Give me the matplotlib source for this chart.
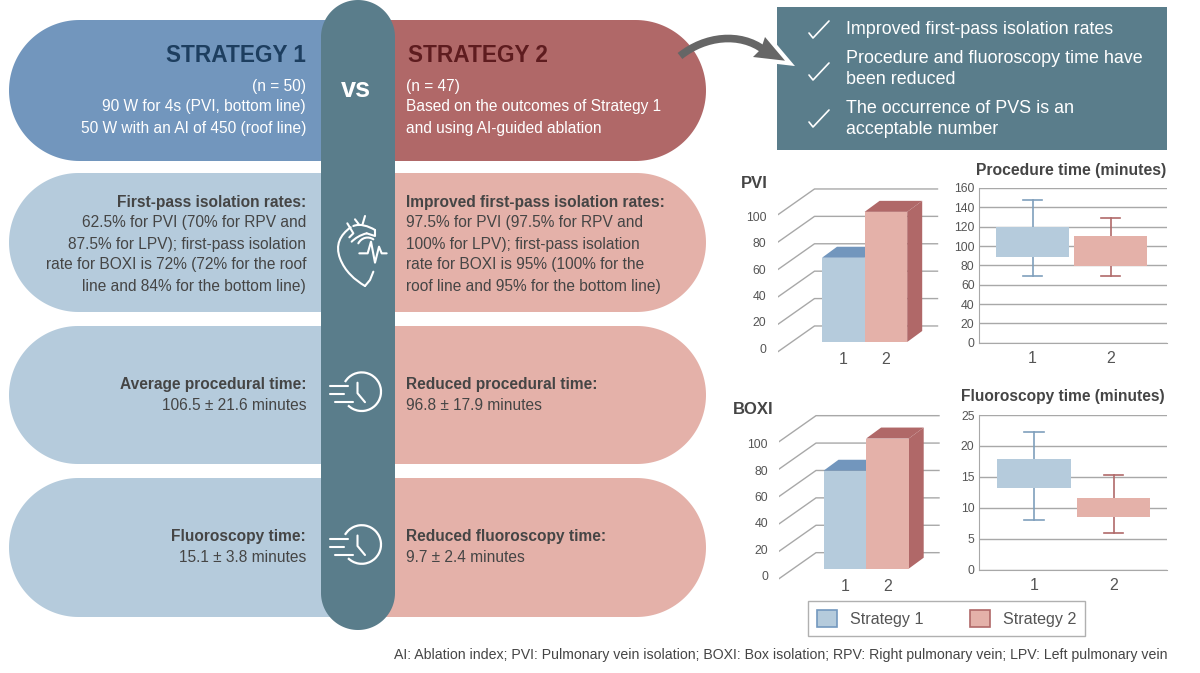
import numpy as np
import matplotlib
matplotlib.use("Agg")
import matplotlib.pyplot as plt
from matplotlib.patches import Polygon, Rectangle, Patch, PathPatch, Arc
from matplotlib.path import Path

plt.rcParams['font.family'] = ['Liberation Sans', 'DejaVu Sans']

# Data for the charts
categories = [1, 2]
pvi_values = [61.5, 95]
boxi_values = [71.5, 95]
bar_ticks = [0, 20, 40, 60, 80, 100]

procedure_stats = [dict(whislo=69.5, q1=89, med=105, q3=120, whishi=148),
                   dict(whislo=69, q1=79, med=95, q3=110, whishi=129)]
fluoro_stats = [dict(whislo=8, q1=13.15, med=15, q3=17.9, whishi=22.3),
                dict(whislo=6, q1=8.5, med=10, q3=11.6, whishi=15.35)]
procedure_ticks = [0, 20, 40, 60, 80, 100, 120, 140, 160]
fluoro_ticks = [0, 5, 10, 15, 20, 25]

legend_labels = ["Strategy 1", "Strategy 2"]
benefits = ["Improved first-pass isolation rates",
            "Procedure and fluoroscopy time have\nbeen reduced",
            "The occurrence of PVS is an\nacceptable number"]
note = ("AI: Ablation index; PVI: Pulmonary vein isolation; BOXI: Box isolation; "
        "RPV: Right pulmonary vein; LPV: Left pulmonary vein")

# Colors
BLUE_DARK = '#7296bd'
BLUE_LIGHT = '#b5cbdc'
RED_DARK = '#b06868'
RED_LIGHT = '#e4b1a9'
TEAL = '#5a7d8b'
TEXT = '#454545'
GRID = '#a8a8a8'
LABEL = '#555555'

W, H = 1200, 673
fig = plt.figure(figsize=(W / 100, H / 100), dpi=100, facecolor='white')

# Background axes in pixel coordinates for the infographic part
bg = fig.add_axes([0, 0, 1, 1])
bg.set_xlim(0, W)
bg.set_ylim(H, 0)
bg.axis('off')


def half_pill(x_flat, y0, y1, side, color, x_end=361):
    r = (y1 - y0) / 2
    cy = (y0 + y1) / 2
    ang = np.linspace(np.pi / 2, -np.pi / 2, 80)
    xs = x_flat + side * r * np.cos(ang)
    ys = cy - r * np.sin(ang)
    pts = list(zip(xs, ys)) + [(x_end, y1), (x_end, y0)]
    bg.add_patch(Polygon(pts, closed=True, fc=color, ec='none', zorder=1))


def draw_line(pts, lw=1.5, color='white', zorder=5):
    xs, ys = zip(*pts)
    bg.plot(xs, ys, color=color, lw=lw, solid_capstyle='round',
            solid_joinstyle='round', zorder=zorder)


def curve(verts, lw=1.5, color='white', zorder=5, cap='round'):
    codes = [Path.MOVETO] + [Path.CURVE4] * (len(verts) - 1)
    bg.add_patch(PathPatch(Path(verts, codes), fc='none', ec=color, lw=lw,
                           capstyle=cap, zorder=zorder))


# Pills
rows = [(20, 161, BLUE_DARK, RED_DARK),
        (173, 312, BLUE_LIGHT, RED_LIGHT),
        (326, 464, BLUE_LIGHT, RED_LIGHT),
        (478, 617, BLUE_LIGHT, RED_LIGHT)]
for y0, y1, c_left, c_right in rows:
    r = (y1 - y0) / 2
    half_pill(9 + r, y0, y1, -1, c_left)
    half_pill(706 - r, y0, y1, 1, c_right)

# Center column
col_r = 37
col_ang = np.linspace(0, np.pi, 60)
col_pts = ([(358 - col_r * np.cos(a), col_r - col_r * np.sin(a)) for a in col_ang]
           + [(358 + col_r * np.cos(a), 630 - col_r + col_r * np.sin(a)) for a in col_ang])
bg.add_patch(Polygon(col_pts, closed=True, fc=TEAL, ec='none', zorder=3))
bg.text(355.5, 90, "vs", color='white', fontsize=19.5, fontweight='bold', ha='center', va='center', zorder=6)


# Heart icon, sketched on a 3x grid
def hp(pts):
    return [(320 + a / 3, 200 + b / 3) for a, b in pts]


curve(hp([(92, 82), (60, 105), (45, 135), (60, 175), (75, 215), (105, 240), (135, 258)]))
draw_line(hp([(135, 258), (150, 240), (160, 215)]))
curve(hp([(100, 78), (120, 70), (145, 78), (165, 90)]))
draw_line(hp([(165, 90), (165, 108), (140, 100)]))
curve(hp([(140, 100), (120, 105), (105, 115), (95, 125)]))
draw_line(hp([(82, 70), (100, 100), (88, 112)]))
draw_line(hp([(105, 58), (118, 75)]))
draw_line(hp([(135, 48), (128, 72)]))
curve(hp([(115, 130), (125, 112), (145, 108), (160, 118)]))
draw_line(hp([(118, 160), (143, 160), (153, 125), (165, 188), (177, 140), (185, 160), (200, 160)]))

# Clock icons
for cy in [391.7, 544.5]:
    bg.add_patch(Arc((361.7, cy), 38.6, 38.6, theta1=-150, theta2=135, color='white', lw=1.6, zorder=5))
    draw_line([(357.5, cy - 9), (357.5, cy + 1.5), (365, cy + 10.5)])
    draw_line([(330, cy - 5.5), (348, cy - 5.5)])
    draw_line([(330, cy + 2.5), (344, cy + 2.5)])
    draw_line([(335, cy + 10.5), (353, cy + 10.5)])

# Headers
bg.text(306, 55, "STRATEGY 1", color='#1d3e5f', fontsize=16.3, fontweight='bold', ha='right', va='center', zorder=6)
bg.text(408, 55, "STRATEGY 2", color='#5e1c1f', fontsize=16.3, fontweight='bold', ha='left', va='center', zorder=6)

left_text = [("(n = 50)", 87, 'normal', 'white'),
             ("90 W for 4s (PVI, bottom line)", 107, 'normal', 'white'),
             ("50 W with an AI of 450 (roof line)", 128, 'normal', 'white'),
             ("First-pass isolation rates:", 202, 'bold', TEXT),
             ("62.5% for PVI (70% for RPV and", 223, 'normal', TEXT),
             ("87.5% for LPV); first-pass isolation", 244, 'normal', TEXT),
             ("rate for BOXI is 72% (72% for the roof", 265, 'normal', TEXT),
             ("line and 84% for the bottom line)", 287, 'normal', TEXT),
             ("Average procedural time:", 384.5, 'bold', TEXT),
             ("106.5 ± 21.6 minutes", 405.5, 'normal', TEXT),
             ("Fluoroscopy time:", 536.5, 'bold', TEXT),
             ("15.1 ± 3.8 minutes", 557.5, 'normal', TEXT)]
right_text = [("(n = 47)", 87, 'normal', 'white'),
              ("Based on the outcomes of Strategy 1", 107, 'normal', 'white'),
              ("and using AI-guided ablation", 128, 'normal', 'white'),
              ("Improved first-pass isolation rates:", 202, 'bold', TEXT),
              ("97.5% for PVI (97.5% for RPV and", 223, 'normal', TEXT),
              ("100% for LPV); first-pass isolation", 244, 'normal', TEXT),
              ("rate for BOXI is 95% (100% for the", 265, 'normal', TEXT),
              ("roof line and 95% for the bottom line)", 287, 'normal', TEXT),
              ("Reduced procedural time:", 384.5, 'bold', TEXT),
              ("96.8 ± 17.9 minutes", 405.5, 'normal', TEXT),
              ("Reduced fluoroscopy time:", 536.5, 'bold', TEXT),
              ("9.7 ± 2.4 minutes", 557.5, 'normal', TEXT)]
for s, y, w, c in left_text:
    bg.text(306, y, s, color=c, fontsize=11.2, fontweight=w, ha='right', va='center', zorder=6)
for s, y, w, c in right_text:
    bg.text(406, y, s, color=c, fontsize=11.2, fontweight=w, ha='left', va='center', zorder=6)

# Teal box with ticks
bg.add_patch(Rectangle((777, 7), 390, 143, fc=TEAL, ec='none', zorder=1))
for s, ty, cy in zip(benefits, [29, 69, 119], [33, 75, 122]):
    bg.text(846, ty, s, color='white', fontsize=12.85, ha='left', va='center', linespacing=1.3, zorder=6)
    draw_line([(809, cy), (813, cy + 5), (829, cy - 12)], lw=1.2)

# Curved arrow
head = [(765, 37), (785, 60.7), (753, 57), (761, 49)]
bg.add_patch(Polygon(head, closed=True, fc='white', ec='white', lw=6, joinstyle='miter', zorder=3))
bg.add_patch(Polygon(head, closed=True, fc='#666666', ec='none', zorder=4))
curve([(680, 56), (705, 36), (740, 32), (764, 50)], lw=5.5, color='#666666', zorder=4, cap='butt')

bg.text(741, 183, "PVI", color=TEXT, fontsize=12, fontweight='bold', va='center')
bg.text(733, 409, "BOXI", color=TEXT, fontsize=12, fontweight='bold', va='center')
bg.text(1166, 170, "Procedure time (minutes)", color=TEXT, fontsize=11.3, fontweight='bold', ha='right', va='center')
bg.text(1165, 396, "Fluoroscopy time (minutes)", color=TEXT, fontsize=11.2, fontweight='bold', ha='right', va='center')
bg.text(1168, 655.5, note, color=TEXT, fontsize=10.17, ha='right', va='center')


def axes_px(x0, y0, x1, y1):
    # pixel box (top-left origin) to a figure axes
    ax = fig.add_axes([x0 / W, 1 - y1 / H, (x1 - x0) / W, (y1 - y0) / H])
    ax.patch.set_alpha(0)
    return ax


def bar3d(values, left, base_y, label_top, label_bottom):
    # fake 3D column chart; one x unit is 42.6 px, one y unit 1.37 px
    ux, uy = 42.6, 1.37
    x_lo = left - 44.5
    ax = axes_px(x_lo, base_y - 170, x_lo + 165, base_y + 15)
    to_x = lambda px: 0.5 + (px - left) / ux
    ax.set_xlim(to_x(x_lo), to_x(x_lo + 165))
    ax.set_ylim(-15 / uy, 170 / uy)
    ax.axis('off')
    front, wall, end = to_x(left - 44.5), to_x(left - 7.5), to_x(left + 115.5)
    for v in bar_ticks:
        ax.plot([front, wall, end], [v - 7.3, v + 11.7, v + 11.7], color=GRID, lw=1.0, zorder=1)
    dx, dy = 15 / ux, 11 / uy
    ax.bar(categories, values, width=1, color=[BLUE_LIGHT, RED_LIGHT], zorder=4)
    for c, v, col in zip(categories, values, [BLUE_DARK, RED_DARK]):
        l, r = c - 0.5, c + 0.5
        ax.add_patch(Polygon([(l, v), (l + dx, v + dy), (r + dx, v + dy), (r, v)], fc=col, ec='none', zorder=3))
    r = categories[-1] + 0.5
    ax.add_patch(Polygon([(r, 0), (r + dx, dy), (r + dx, values[-1] + dy), (r, values[-1])],
                         fc=RED_DARK, ec='none', zorder=3))
    # separate thin axes for the value labels and the category labels
    tick_ax = axes_px(left - 50, label_top, left - 45, label_bottom)
    tick_ax.set_ylim(0, 100)
    tick_ax.set_yticks(bar_ticks)
    tick_ax.set_xticks([])
    tick_ax.tick_params(axis='y', length=0, labelsize=8.8, labelcolor=LABEL, pad=4)
    for s in tick_ax.spines.values():
        s.set_visible(False)
    cat_ax = axes_px(left, base_y + 5, left + 85.2, base_y + 6)
    cat_ax.set_xlim(0.5, 2.5)
    cat_ax.set_xticks(categories)
    cat_ax.set_yticks([])
    cat_ax.tick_params(axis='x', length=0, labelsize=11.5, labelcolor=LABEL, pad=3)
    for s in cat_ax.spines.values():
        s.set_visible(False)


def box_panel(stats, ticks, ymax, x_lim, box):
    ax = axes_px(*box)
    ax.set_ylim(0, ymax)
    ax.set_xlim(*x_lim)
    ax.set_yticks(ticks)
    ax.grid(axis='y', color=GRID, lw=1.0)
    ax.set_axisbelow(True)
    for side in ['top', 'right']:
        ax.spines[side].set_visible(False)
    ax.spines['left'].set_color(GRID)
    ax.spines['bottom'].set_color(GRID)
    ax.tick_params(axis='both', length=0)
    ax.tick_params(axis='y', labelsize=8.8, labelcolor=LABEL, pad=3)
    ax.tick_params(axis='x', labelsize=11.5, labelcolor=LABEL, pad=6)
    bp = ax.bxp(stats, positions=categories, widths=0.93, showfliers=False,
                patch_artist=True, capwidths=0.25, zorder=3,
                medianprops=dict(linewidth=0))
    fills = [BLUE_LIGHT, RED_LIGHT]
    edges = ['#7f9fbc', '#b06a6a']
    for i in range(2):
        bp['boxes'][i].set(facecolor=fills[i], edgecolor='none', zorder=4)
        for art in bp['whiskers'][2 * i:2 * i + 2] + bp['caps'][2 * i:2 * i + 2]:
            art.set(color=edges[i], lw=1.2)
    ax.set_xticks(categories, ['1', '2'])
    ax.set_xlim(*x_lim)
    return ax


bar3d(pvi_values, 822, 342, 216.7, 348)
bar3d(boxi_values, 823.5, 568.7, 443.7, 575.7)
box_panel(procedure_stats, procedure_ticks, 160, (0.31, 2.72), (978.7, 188, 1166.7, 342.7))
box_panel(fluoro_stats, fluoro_ticks, 25, (0.3, 2.67), (978.7, 415, 1166.7, 569.7))

# Legend shared by all panels
handles = [Patch(fc=BLUE_LIGHT, ec='#7398bf', lw=1.2), Patch(fc=RED_LIGHT, ec='#b06868', lw=1.2)]
fig.legend(handles, legend_labels, loc='center', bbox_to_anchor=(946.5 / W, 1 - 618.3 / H),
           ncol=2, fontsize=11.6, frameon=True, fancybox=False, edgecolor='#b0b0b0',
           framealpha=1, handlelength=1.25, handleheight=1.25, handletextpad=0.8,
           columnspacing=2.9, borderpad=0.55, borderaxespad=0, labelcolor=LABEL)

fig.savefig('out.png', dpi=100)
